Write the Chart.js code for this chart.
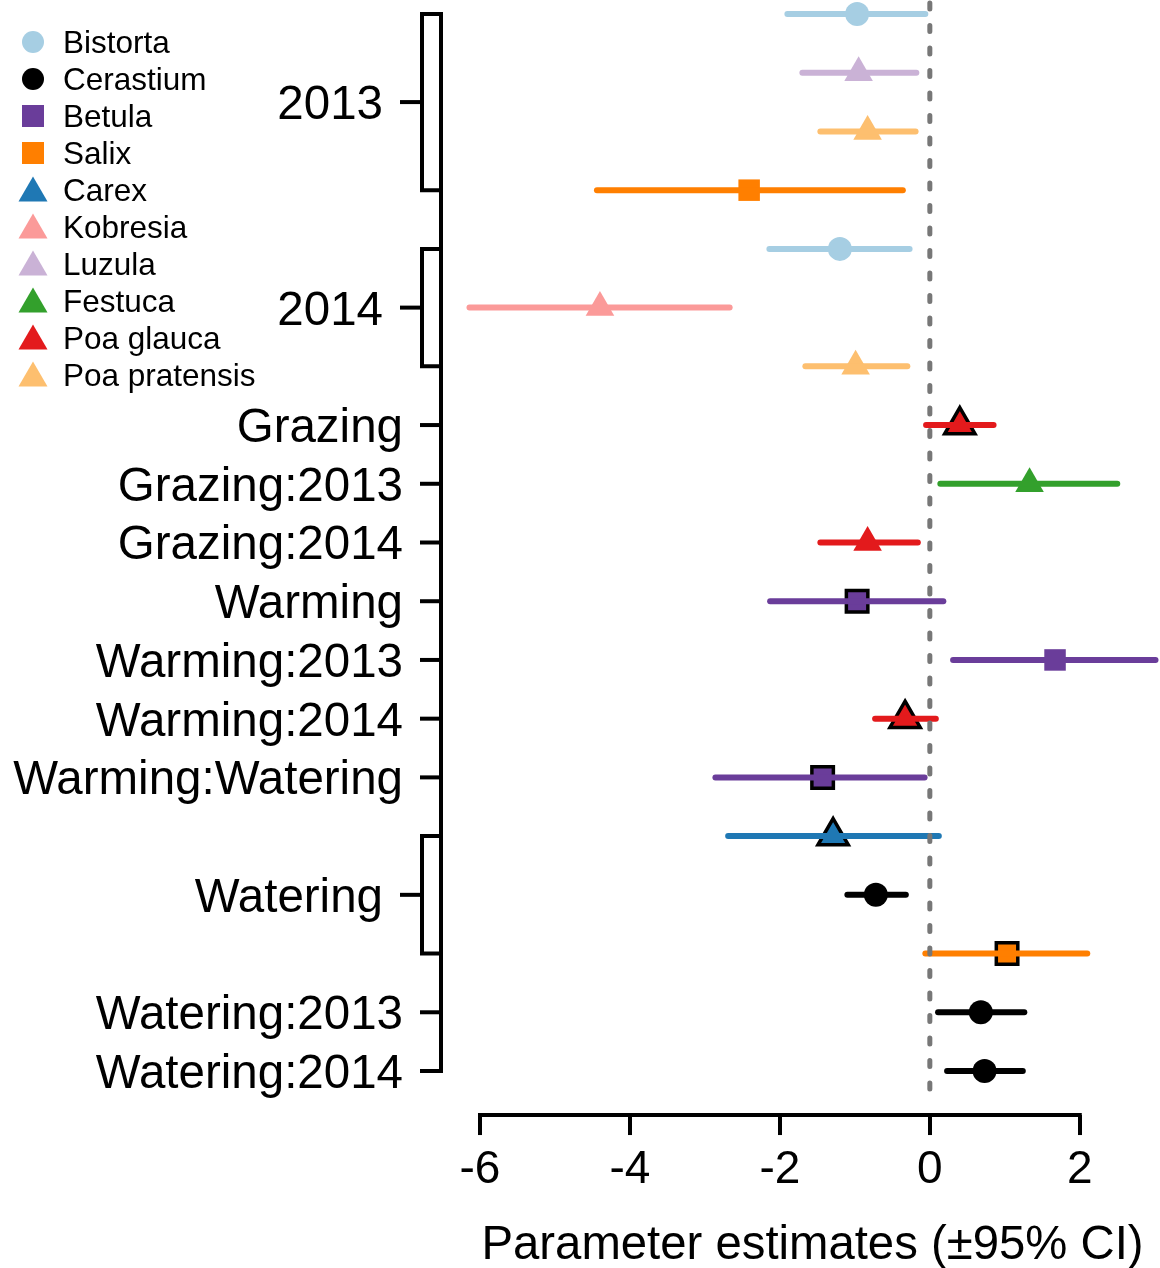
<!DOCTYPE html>
<html>
<head>
<meta charset="utf-8">
<script src="https://cdn.jsdelivr.net/npm/chart.js"></script>
<style>
  body { margin: 0; background: #fff; }
  canvas { display: block; }
</style>
</head>
<body>
<canvas id="forest" width="1160" height="1268"></canvas>
<script>
// species (legend order) and their colours / marker shapes
const species = ["Bistorta", "Cerastium", "Betula", "Salix", "Carex", "Kobresia", "Luzula", "Festuca", "Poa glauca", "Poa pratensis"];
const speciesColors = ["#a6cee3", "#000000", "#6a3d9a", "#ff7f00", "#1f78b4", "#fb9a99", "#cab2d6", "#33a02c", "#e31a1c", "#fdbf6f"];
const speciesShapes = ["circle", "circle", "rect", "rect", "triangle", "triangle", "triangle", "triangle", "triangle", "triangle"];

// one entry per row, top to bottom
const rowSpecies = ["Bistorta", "Luzula", "Poa pratensis", "Salix", "Bistorta", "Kobresia", "Poa pratensis",
  "Poa glauca", "Festuca", "Poa glauca", "Betula", "Betula", "Poa glauca", "Betula", "Carex", "Cerastium",
  "Salix", "Cerastium", "Cerastium"];
const estimates = [-0.97, -0.95, -0.83, -2.41, -1.20, -4.40, -0.99, 0.40, 1.33, -0.83, -0.97, 1.67, -0.33, -1.43, -1.29, -0.72, 1.03, 0.68, 0.73];
const lowerCI = [-1.90, -1.70, -1.46, -4.44, -2.14, -6.14, -1.66, -0.05, 0.14, -1.46, -2.13, 0.31, -0.73, -2.86, -2.69, -1.10, -0.06, 0.11, 0.23];
const upperCI = [-0.06, -0.18, -0.19, -0.36, -0.27, -2.67, -0.30, 0.85, 2.50, -0.16, 0.18, 3.01, 0.08, -0.07, 0.12, -0.32, 2.10, 1.26, 1.24];
const outlined = [false, false, false, false, false, false, false, true, false, false, true, false, true, true, true, false, true, false, false];

// model terms and the rows (first, last) they cover
const termLabels = ["2013", "2014", "Grazing", "Grazing:2013", "Grazing:2014", "Warming", "Warming:2013",
  "Warming:2014", "Warming:Watering", "Watering", "Watering:2013", "Watering:2014"];
const termFirstRow = [1, 5, 8, 9, 10, 11, 12, 13, 14, 15, 18, 19];
const termLastRow = [4, 7, 8, 9, 10, 11, 12, 13, 14, 17, 18, 19];

const xTicks = [-6, -4, -2, 0, 2];
const xTitle = "Parameter estimates (\u00b195% CI)";

const FONT = "'Liberation Sans', Arial, Helvetica, sans-serif";
Chart.defaults.font.family = FONT;
Chart.defaults.color = "#000";

// build one scatter dataset per species
const datasets = species.map((name, s) => {
  const pts = [];
  rowSpecies.forEach((sp, i) => {
    if (sp === name) {
      pts.push({ x: estimates[i], y: i + 1, lo: lowerCI[i], hi: upperCI[i], sig: outlined[i] });
    }
  });
  const shape = speciesShapes[s];
  return {
    label: name,
    data: pts,
    pointStyle: shape,
    backgroundColor: speciesColors[s],
    pointBackgroundColor: speciesColors[s],
    pointBorderColor: ctx => (ctx.raw && ctx.raw.sig) ? "#000" : speciesColors[s],
    pointBorderWidth: ctx => (ctx.raw && ctx.raw.sig) ? 3.5 : 0,
    pointRadius: ctx => {
      const sig = ctx.raw && ctx.raw.sig;
      if (shape === "circle") return 12;
      if (shape === "rect") return 15.2;
      return sig ? 17.5 : 16.5;
    },
    pointHoverRadius: 0
  };
});

function markerPath(ctx, shape, x, y, size) {
  ctx.beginPath();
  if (shape === "circle") {
    ctx.arc(x, y, size / 2, 0, Math.PI * 2);
  } else if (shape === "rect") {
    ctx.rect(x - size / 2, y - size / 2, size, size);
  } else {
    const h = size * 0.866;
    ctx.moveTo(x, y - h / 2 - 1);
    ctx.lineTo(x + size / 2, y + h / 2 - 1);
    ctx.lineTo(x - size / 2, y + h / 2 - 1);
    ctx.closePath();
  }
}

const forestPlugin = {
  id: "forest",
  afterDatasetsDraw(chart) {
    const { ctx, scales: { x, y }, chartArea } = chart;
    ctx.save();
    // confidence intervals
    ctx.lineCap = "round";
    ctx.lineWidth = 6;
    rowSpecies.forEach((sp, i) => {
      ctx.strokeStyle = speciesColors[species.indexOf(sp)];
      const py = y.getPixelForValue(i + 1);
      ctx.beginPath();
      ctx.moveTo(x.getPixelForValue(lowerCI[i]), py);
      ctx.lineTo(x.getPixelForValue(upperCI[i]), py);
      ctx.stroke();
    });
    // dashed zero line
    ctx.strokeStyle = "#777777";
    ctx.lineWidth = 5;
    ctx.setLineDash([6, 16.5]);
    const zx = x.getPixelForValue(0);
    ctx.beginPath();
    ctx.moveTo(zx, chartArea.top + 3);
    ctx.lineTo(zx, chartArea.bottom - 15);
    ctx.stroke();
    ctx.restore();
  },
  afterDraw(chart) {
    const { ctx, scales: { x, y }, chartArea } = chart;
    ctx.save();
    ctx.strokeStyle = "#000";
    ctx.lineWidth = 4;
    ctx.lineCap = "butt";

    // x axis line between first and last tick
    ctx.beginPath();
    ctx.moveTo(x.getPixelForValue(xTicks[0]) - 2, chartArea.bottom);
    ctx.lineTo(x.getPixelForValue(xTicks[xTicks.length - 1]) + 2, chartArea.bottom);
    ctx.stroke();

    // y axis with bracket boxes for grouped terms
    const ax = chartArea.left - 24;
    const boxW = 19;
    ctx.beginPath();
    ctx.moveTo(ax, y.getPixelForValue(1) - 2);
    ctx.lineTo(ax, y.getPixelForValue(rowSpecies.length) + 2);
    ctx.stroke();

    ctx.fillStyle = "#000";
    ctx.font = "47.5px " + FONT;
    ctx.textAlign = "right";
    ctx.textBaseline = "alphabetic";
    termLabels.forEach((lab, t) => {
      const y0 = y.getPixelForValue(termFirstRow[t]);
      const y1 = y.getPixelForValue(termLastRow[t]);
      const ym = (y0 + y1) / 2;
      let tickEnd;
      if (termLastRow[t] > termFirstRow[t]) {
        ctx.beginPath();
        ctx.moveTo(ax, y0);
        ctx.lineTo(ax - boxW, y0);
        ctx.lineTo(ax - boxW, y1);
        ctx.lineTo(ax, y1);
        ctx.stroke();
        ctx.beginPath();
        ctx.moveTo(ax - boxW, ym);
        ctx.lineTo(ax - boxW - 22, ym);
        ctx.stroke();
        tickEnd = ax - boxW - 22;
      } else {
        ctx.beginPath();
        ctx.moveTo(ax, ym);
        ctx.lineTo(ax - 21, ym);
        ctx.stroke();
        tickEnd = ax - 21;
      }
      ctx.fillText(lab, tickEnd - 17, ym + 17);
    });

    // legend
    ctx.font = "31.5px " + FONT;
    ctx.textAlign = "left";
    species.forEach((name, s) => {
      const ly = 42 + s * 37;
      ctx.fillStyle = speciesColors[s];
      const shape = speciesShapes[s];
      markerPath(ctx, shape, 33, ly, shape === "triangle" ? 29 : 22);
      ctx.fill();
      ctx.fillStyle = "#000";
      ctx.fillText(name, 63, ly + 11);
    });
    ctx.restore();
  }
};

new Chart(document.getElementById("forest").getContext("2d"), {
  type: "scatter",
  data: { datasets },
  options: {
    responsive: false,
    devicePixelRatio: 1,
    animation: false,
    events: [],
    layout: { autoPadding: false, padding: { left: 465, right: 0, top: 0, bottom: -10 } },
    plugins: { legend: { display: false }, tooltip: { enabled: false } },
    scales: {
      x: {
        type: "linear",
        min: -6.2,
        max: 3.07,
        afterBuildTicks: scale => { scale.ticks = xTicks.map(v => ({ value: v })); },
        grid: { drawOnChartArea: false, drawTicks: true, tickLength: 20, lineWidth: 4, color: "#000" },
        border: { display: false },
        ticks: { font: { size: 46 }, color: "#000", padding: 8, maxRotation: 0, autoSkip: false },
        title: { display: true, text: xTitle, font: { size: 47.3 }, color: "#000", padding: { top: 11, bottom: 4 } }
      },
      y: {
        type: "linear",
        reverse: true,
        display: false,
        min: 0.7616,
        max: 19.75
      }
    }
  },
  plugins: [forestPlugin]
});
</script>
</body>
</html>
